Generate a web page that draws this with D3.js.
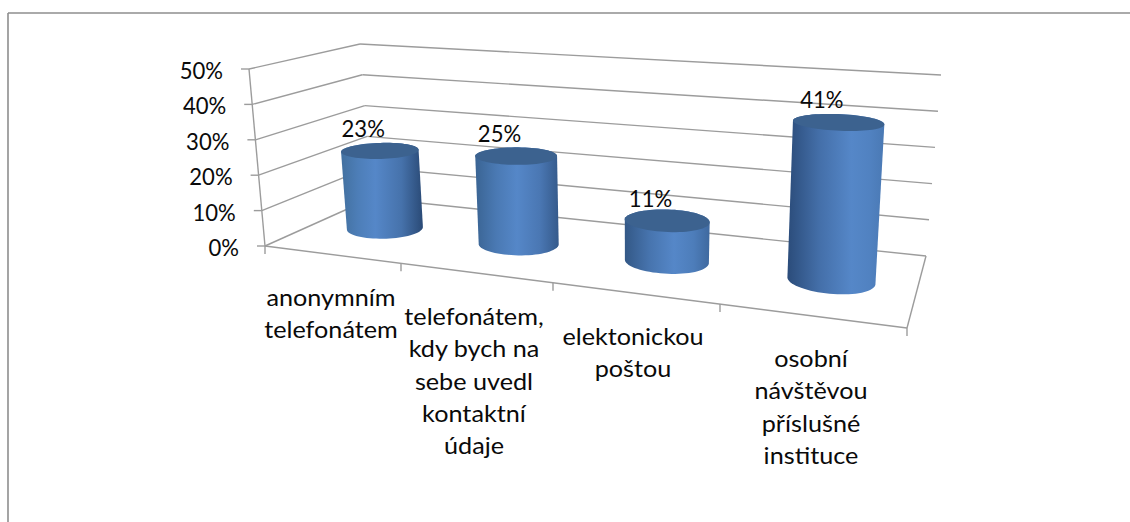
<!DOCTYPE html>
<html><head><meta charset="utf-8">
<script src="https://cdn.jsdelivr.net/npm/d3@7/dist/d3.min.js"></script>
<style>html,body{margin:0;padding:0;background:#fff;overflow:hidden}svg{display:block}text{font-family:Lato,"Open Sans",sans-serif;fill:#0a0a0a}</style>
</head><body><svg id="c" width="1130" height="522"></svg>
<script>
const categories = [
  ["anonymním","telefonátem"],
  ["telefonátem,","kdy bych na","sebe uvedl","kontaktní","údaje"],
  ["elektonickou","poštou"],
  ["osobní","návštěvou","příslušné","instituce"]
];
const values = [23, 25, 11, 41];
const valueTicks = [0, 10, 20, 30, 40, 50];

// layout of the projected box
const corners = {
  fl:[[265,246],[249,69]], bl:[[372,198],[360,44]],
  br:[[926,256],[941,75]], fr:[[907,328],[917,113]]
};
const frontTicksX = [265,401,553,720,907];
const catCenterX = [331,474,633,811];
const catFirstBaseline = [306,325,345,367];
const lineStep = 32.3;
const condenseNum = 0.92, condenseWord = 1.05;
const fontSize = 24;

const svg = d3.select("#c");
const defs = svg.append("defs");
const grid = "#9c9c9c";

const w01 = d3.scaleLinear().domain([0,50]).range([0,1]);
const uFrac = d3.scaleLinear().domain(d3.range(5))
   .range(frontTicksX.map(x=>(x-265)/(907-265)));
const lerp=(a,b,t)=>a+(b-a)*t;
const lerp2=(a,b,t)=>[lerp(a[0],b[0],t),lerp(a[1],b[1],t)];
function P(u,v,w){
  const s=uFrac(u), h=w01(w);
  const at=k=>lerp2(corners[k][0],corners[k][1],h);
  return lerp2(lerp2(at("fl"),at("fr"),s), lerp2(at("bl"),at("br"),s), v);
}
const line=d3.line();
function seg(a,b,sw=1.4,c=grid){
  svg.append("path").attr("d",line([a,b])).attr("fill","none").attr("stroke",c).attr("stroke-width",sw);
}
function txt(sel,x,y,s,anchor,cond){
  const t=sel.append("text").attr("x",x).attr("y",y).attr("text-anchor",anchor)
    .attr("font-size",fontSize).text(s);
  const n=t.node();
  t.attr("textLength",n.getComputedTextLength()*cond).attr("lengthAdjust","spacingAndGlyphs");
  return t;
}

// frame
seg([8,522],[8,13],1.6,"#8e8e8e");
seg([8,13],[1130,13],1.6,"#8e8e8e");

// walls
valueTicks.forEach(t=>{
  const a=P(0,0,t),b=P(0,1,t),c=P(4,1,t);
  seg(a,b); seg(b,c);
  seg([a[0]-8,a[1]],a);
  txt(svg,a[0]-26,a[1]+10,t+"%","end",condenseNum);
});
seg(P(0,0,50),P(0,0,0));
// floor
seg(P(0,0,0),P(4,0,0));
seg(P(4,0,0),P(4,1,0));
d3.range(5).forEach(i=>{const p=P(i,0,0); seg(p,[p[0],p[1]+8]);});

// bars
const rxScale=d3.scaleLinear().domain([0,3]).range([38,44]);
const lightAt=d3.scaleLinear().domain([0,3]).range([.42,.66]);
const leftDark=d3.scaleLinear().domain([0,3]).range(["#42709f","#2b4c7a"]);
const rightDark=d3.scaleLinear().domain([0,3]).range(["#2a4a76","#4a79b4"]);
values.forEach((val,i)=>{
  const u0=i+.508, v0=.525, rv=.19;
  const lw=P(u0+.49,v0,0)[0]-P(u0-.49,v0,0)[0];
  const skew=(P(u0,1,0)[0]-P(u0,0,0)[0])*rv;
  const ru=Math.sqrt(Math.max(rxScale(i)**2-skew**2,1))/(lw/.98);
  const ell=w=>d3.range(0,72).map(k=>{
    const t=k/72*2*Math.PI;
    return P(u0+ru*Math.cos(t),v0+rv*Math.sin(t),w);
  });
  const top=ell(val),bot=ell(0);
  const id="g"+i, L=lightAt(i);
  const g=defs.append("linearGradient").attr("id",id).attr("x1",0).attr("x2",1).attr("y1",0).attr("y2",0);
  [[0,leftDark(i)],[L*.5,d3.interpolateRgb(leftDark(i),"#5587c8")(.6)],[L,"#5587c8"],
   [L+(1-L)*.55,d3.interpolateRgb(rightDark(i),"#5587c8")(.65)],[1,rightDark(i)]]
   .forEach(s=>g.append("stop").attr("offset",s[0]).attr("stop-color",s[1]));
  svg.append("path").attr("d",line(d3.polygonHull(top.concat(bot)))+"Z").attr("fill",`url(#${id})`);
  svg.append("path").attr("d",line(top)+"Z").attr("fill","#3c628f");
  const c=P(u0,v0,val);
  txt(svg,c[0]-17,c[1]-14,val+"%","middle",condenseNum);
});

// category labels
categories.forEach((lines,i)=>{
  lines.forEach((s,j)=>txt(svg,catCenterX[i],catFirstBaseline[i]+j*lineStep,s,"middle",condenseWord));
});
</script></body></html>
